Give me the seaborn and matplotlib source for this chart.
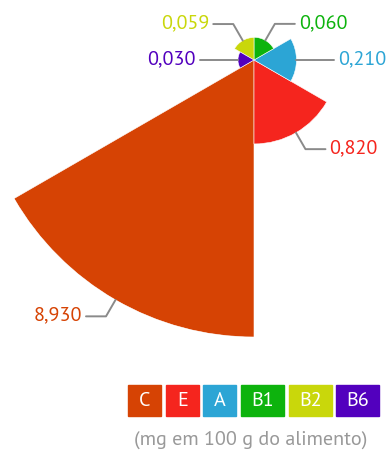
import numpy as np
import matplotlib
matplotlib.use("Agg")
import matplotlib.pyplot as plt
from matplotlib import font_manager
from matplotlib.patches import Rectangle
from matplotlib.lines import Line2D
import seaborn as sns

# ---- data ----
categories = ["C", "E", "A", "B1", "B2", "B6"]
values = [8.930, 0.820, 0.210, 0.060, 0.059, 0.030]
value_labels = ["8,930", "0,820", "0,210", "0,060", "0,059", "0,030"]
colors = ["#D64304", "#F5251E", "#2CA5D5", "#0DB30D", "#C9D70B", "#5200BE"]
subtitle = "(mg em 100 g do alimento)"

sns.set_theme(style="white")
names = {f.name for f in font_manager.fontManager.ttflist}
fam = [f for f in ["PT Sans", "Fira Sans", "Lato", "DejaVu Sans"] if f in names]
plt.rcParams["font.family"] = fam

W, H = 387, 453
fig = plt.figure(figsize=(W / 100, H / 100), dpi=100)
fig.patch.set_facecolor("white")

cx, cy = 254, H - 60
R = 277
ax = fig.add_axes([(cx - R) / W, (cy - R) / H, 2 * R / W, 2 * R / H], projection="polar")
ax.set_theta_offset(np.deg2rad(210))
ax.set_theta_direction(1)

n = len(values)
step = 2 * np.pi / n
theta = np.arange(n) * step
r = np.sqrt(np.array(values))
ax.bar(theta, r, width=step, align="edge", color=colors, edgecolor="white", linewidth=0.4)
ax.set_ylim(0, r.max())
ax.axis("off")

# ---- leader lines and value labels ----
to_fig = fig.transFigure.inverted()
c0 = ax.transData.transform((0, 0))
for i in range(n):
    tm = theta[i] + step / 2
    p = ax.transData.transform((tm, r[i]))
    u = (p - c0) / np.linalg.norm(p - c0)
    s = np.sign(u[0])
    if abs(u[0]) > 0.99:
        pb = p + 38 * u
        ph = pb
    else:
        pb = p + 19 * u
        ph = pb + np.array([20 * s, 0])
    pts = to_fig.transform(np.array([p, pb, ph]))
    fig.add_artist(Line2D(pts[:, 0], pts[:, 1], color="#8a8a8a", lw=1.4,
                          transform=fig.transFigure))
    tp = to_fig.transform(ph + np.array([4 * s, 1]))
    fig.text(tp[0], tp[1], value_labels[i], color=colors[i], fontsize=14.5,
             ha="left" if s > 0 else "right", va="center")

# ---- legend boxes ----
x = 128
gap = 4.7
bh = 31
by = H - 385 - bh
for cat, col in zip(categories, colors):
    bw = 33 if len(cat) == 1 else 43
    fig.add_artist(Rectangle((x / W, by / H), bw / W, bh / H, color=col,
                             transform=fig.transFigure))
    fig.text((x + bw / 2) / W, (by + bh / 2) / H, cat, color="white", fontsize=14.5,
             ha="center", va="center")
    x += bw + gap

fig.text(251 / W, (H - 440) / H, subtitle, color="#999999", fontsize=14.5,
         ha="center", va="center")

fig.savefig("out.png", dpi=100, facecolor="white")
